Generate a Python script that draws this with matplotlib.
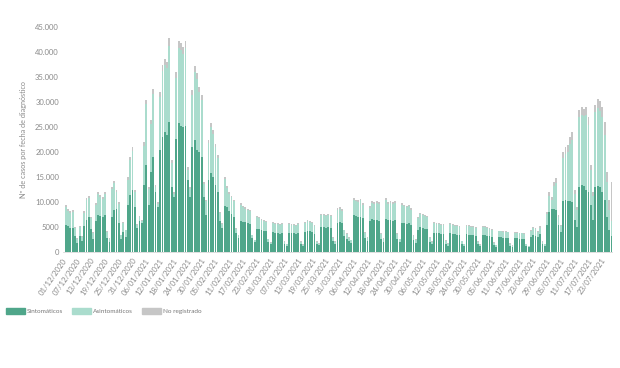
"""Casos diarios por fecha de diagnóstico, sintomáticos / asintomáticos / no registrado."""
import numpy as np
import pandas as pd
import matplotlib
matplotlib.use("Agg")
import matplotlib.pyplot as plt
from matplotlib.patches import Patch

# daily values from 01/12/2020 to 26/07/2021
sintomaticos = [
    5500, 5200, 4800, 4900, 3200, 1900, 3300, 2200, 5300, 6500, 7000, 4700, 2700,
    6300, 7500, 7300, 7000, 7400, 2900, 2000, 7000, 8500, 8700, 5800, 2600, 4000, 3000,
    9500, 11500, 12500, 9000,
    4800, 6200, 5800, 13500, 17500, 9500, 16000, 19000, 12000, 9000,
    20500, 23000, 24000, 23500, 26000, 13000, 11000, 22700, 25800, 25300, 25000, 25300,
    14500, 11000, 21000, 22500, 20500, 20000, 19000, 11000, 7500,
    14500, 15800, 15000, 13500, 12000, 6200, 4800, 9300, 9000, 8200, 7600, 7000, 3800, 2800,
    6300, 6100, 6000, 5800, 5600, 2800, 2000, 4700, 4600, 4500, 4300, 4300, 2000, 1600,
    4000, 3900, 3800, 3700, 3800, 1700, 1300, 3900, 3800, 3800, 3600, 3800, 1700, 1300,
    4000, 4300, 4200, 4000, 3700, 1700, 1400, 5000, 5100, 4900, 5000, 4800, 2200, 1700,
    5800, 6000, 5800,
    3200, 2700, 2200, 1800, 7500, 7200, 7000, 7000, 6800, 2900, 2200,
    6200, 6600, 6500, 6500, 6300, 2700, 2000, 6600, 6400, 6500, 6300, 6400, 2600, 2000,
    5900, 5800, 5700, 5800, 5500,
    2400, 1900, 4400, 5000, 4800, 4700, 4600, 2000, 1600, 3900, 3900, 3800, 3700, 3600, 1700, 1300,
    3800, 3700, 3600, 3500, 3500, 1700, 1300, 3600, 3500, 3400, 3400, 3300, 1600, 1200, 3400,
    3400, 3300, 3200, 3000, 1500, 1100, 3000, 3000, 2900, 2900, 2800, 1300, 1000,
    2800, 2800, 2700, 2700, 2600, 1200, 1000, 3100, 3500, 3300, 3000, 3600, 1600, 1200,
    5500, 8000, 8700, 8700, 8500, 5400, 4000,
    10200, 10400, 10300, 10200, 10000, 6400, 5000, 13000, 13500, 13200, 12500, 12000, 9500, 6500,
    13000, 13300, 13000, 12000, 10500, 7000, 4500, 3300,
]
asintomaticos = [
    3500, 3100, 3100, 3100, 1600, 800, 1700, 900, 2600, 3900, 3800, 2100, 1200,
    3100, 4100, 3800, 3600, 4200, 1200, 700, 5600, 5400, 3400, 3900, 800, 1800, 1400,
    5000, 6900, 7800, 3100,
    700, 900, 500, 7800, 12100, 3100, 9700, 12700, 1100, 700,
    10500, 13200, 13500, 13300, 15300, 4900, 700, 12200, 15100, 15100, 14700, 15500,
    2000, 1600, 10500, 13600, 14200, 12000, 11500, 2600, 2700,
    7400, 9300, 8700, 7500, 6900, 1600, 800, 5300, 3900, 3500, 3400, 3200, 900, 600,
    3200, 2900, 2700, 2600, 2600, 600, 400, 2350, 2150, 1950, 1850, 1750, 600, 300,
    1800, 1700, 1800, 1700, 1800, 400, 300, 1700, 1700, 1700, 1700, 1800, 400, 200,
    1800, 2000, 1900, 1800, 1600, 400, 300, 2350, 2350, 2350, 2350, 2350, 700, 400,
    2700, 2700, 2500,
    1150, 1000, 700, 600, 3000, 3000, 3100, 3400, 2700, 1000, 700,
    2700, 3300, 3200, 3400, 3400, 1000, 700, 3900, 3300, 3400, 3400, 3500, 1100, 600,
    3600, 3400, 3300, 3400, 3000,
    900, 600, 2400, 2550, 2550, 2450, 2350, 900, 500, 1900, 1800, 1800, 1800, 1800, 600, 400,
    1800, 1800, 1700, 1700, 1600, 500, 300, 1700, 1700, 1700, 1600, 1600, 500, 300, 1600,
    1700, 1500, 1400, 1400, 400, 300, 1150, 1150, 1150, 1150, 1150, 400, 300,
    1050, 1050, 1050, 1050, 1050, 400, 250, 1200, 1350, 1250, 1100, 1300, 500, 400,
    2100, 3300, 1700, 4500, 5400, 1700, 1200,
    8700, 9300, 9800, 11400, 12500, 5200, 3400, 14000, 14000, 14000, 14900, 13400, 7000, 4700,
    15000, 15500, 15300, 15000, 13000, 7000, 4000, 3000,
]
no_registrado = [
    400, 400, 400, 400, 200, 100, 200, 100, 300, 400, 400, 200, 100,
    400, 400, 400, 400, 400, 100, 100, 400, 400, 400, 300, 100, 200, 100,
    500, 600, 700, 400,
    200, 200, 200, 700, 900, 400, 800, 1000, 400, 300,
    1000, 1200, 1200, 1200, 1500, 600, 300, 1100, 1400, 1400, 1300, 1400,
    500, 400, 1000, 1200, 1100, 1000, 1000, 400, 300,
    600, 700, 700, 600, 500, 200, 200, 400, 400, 300, 300, 300, 100, 100,
    300, 300, 300, 300, 300, 100, 100, 250, 250, 250, 250, 250, 100, 100,
    200, 200, 200, 200, 200, 100, 100, 200, 200, 200, 200, 200, 100, 100,
    200, 200, 200, 200, 200, 100, 100, 250, 250, 250, 250, 250, 100, 100,
    300, 300, 300,
    150, 100, 100, 100, 300, 300, 300, 300, 300, 100, 100,
    300, 300, 300, 300, 300, 100, 100, 300, 300, 300, 300, 300, 100, 100,
    300, 300, 300, 300, 300,
    100, 100, 200, 250, 250, 250, 250, 100, 100, 200, 200, 200, 200, 200, 100, 100,
    200, 200, 200, 200, 200, 100, 100, 200, 200, 200, 200, 200, 100, 100, 200,
    200, 200, 200, 200, 100, 100, 150, 150, 150, 150, 150, 100, 100,
    150, 150, 150, 150, 150, 100, 50, 200, 250, 250, 200, 300, 100, 100,
    400, 700, 600, 800, 900, 400, 300,
    1200, 1300, 1300, 1500, 1600, 800, 600, 1400, 1500, 1500, 1600, 1600, 1000, 800,
    1500, 1800, 1900, 2000, 2500, 2000, 2000, 7700,
]
fechas = pd.date_range("2020-12-01", "2021-07-26", freq="D")

y_ticks = [0, 5000, 10000, 15000, 20000, 25000, 30000, 35000, 40000, 45000]
y_ticklabels = ["0", "5000", "10.000", "15.000", "20.000", "25.000",
                "30.000", "35.000", "40.000", "45.000"]

C_SIN = "#4fa68a"
C_ASIN = "#aadccd"
C_NR = "#c6c6c6"
C_TXT = "#8a8a8a"

plt.rcParams["font.family"] = ["Lato", "DejaVu Sans"]

sin = np.array(sintomaticos)
asin = np.array(asintomaticos)
nr = np.array(no_registrado)
x = np.arange(len(fechas))

fig = plt.figure(figsize=(6.2, 3.68), dpi=100)
ax = fig.add_axes([63 / 620, 1 - 252 / 368, 549 / 620, 225 / 368])

ax.bar(x, sin, width=0.8, color=C_SIN, linewidth=0)
ax.bar(x, asin, width=0.8, bottom=sin, color=C_ASIN, linewidth=0)
ax.bar(x, nr, width=0.8, bottom=sin + asin, color=C_NR, linewidth=0)

ax.set_xlim(-1.2, len(x) - 0.8)
ax.set_ylim(0, 45000)
ax.set_yticks(y_ticks)
ax.set_yticklabels(y_ticklabels, fontsize=5.5, color=C_TXT)
tick_idx = x[::6]
ax.set_xticks(tick_idx)
ax.set_xticklabels([fechas[i].strftime("%d/%m/%Y") for i in tick_idx],
                   rotation=55, ha="right", va="center", rotation_mode="anchor",
                   fontsize=5.6, color=C_TXT)
ax.tick_params(axis="both", length=0, pad=3)
ax.tick_params(axis="x", pad=5)
for s in ["top", "right", "left"]:
    ax.spines[s].set_visible(False)
ax.spines["bottom"].set_color("#d9d9d9")
ax.spines["bottom"].set_linewidth(0.6)

ax.set_ylabel("Nº de casos por fecha de diagnóstico", fontsize=5.2, color=C_TXT, labelpad=6)

handles = [Patch(color=C_SIN, label="Sintomáticos"),
           Patch(color=C_ASIN, label="Asintomáticos"),
           Patch(color=C_NR, label="No registrado")]
fig.legend(handles=handles, loc="center left", bbox_to_anchor=(0.0, 1 - 311 / 368),
           ncol=3, frameon=False, fontsize=4.6, handlelength=3.0, handleheight=1.1,
           handletextpad=0.3, columnspacing=1.4, labelcolor="#777777")

fig.savefig("out.png", dpi=100)
